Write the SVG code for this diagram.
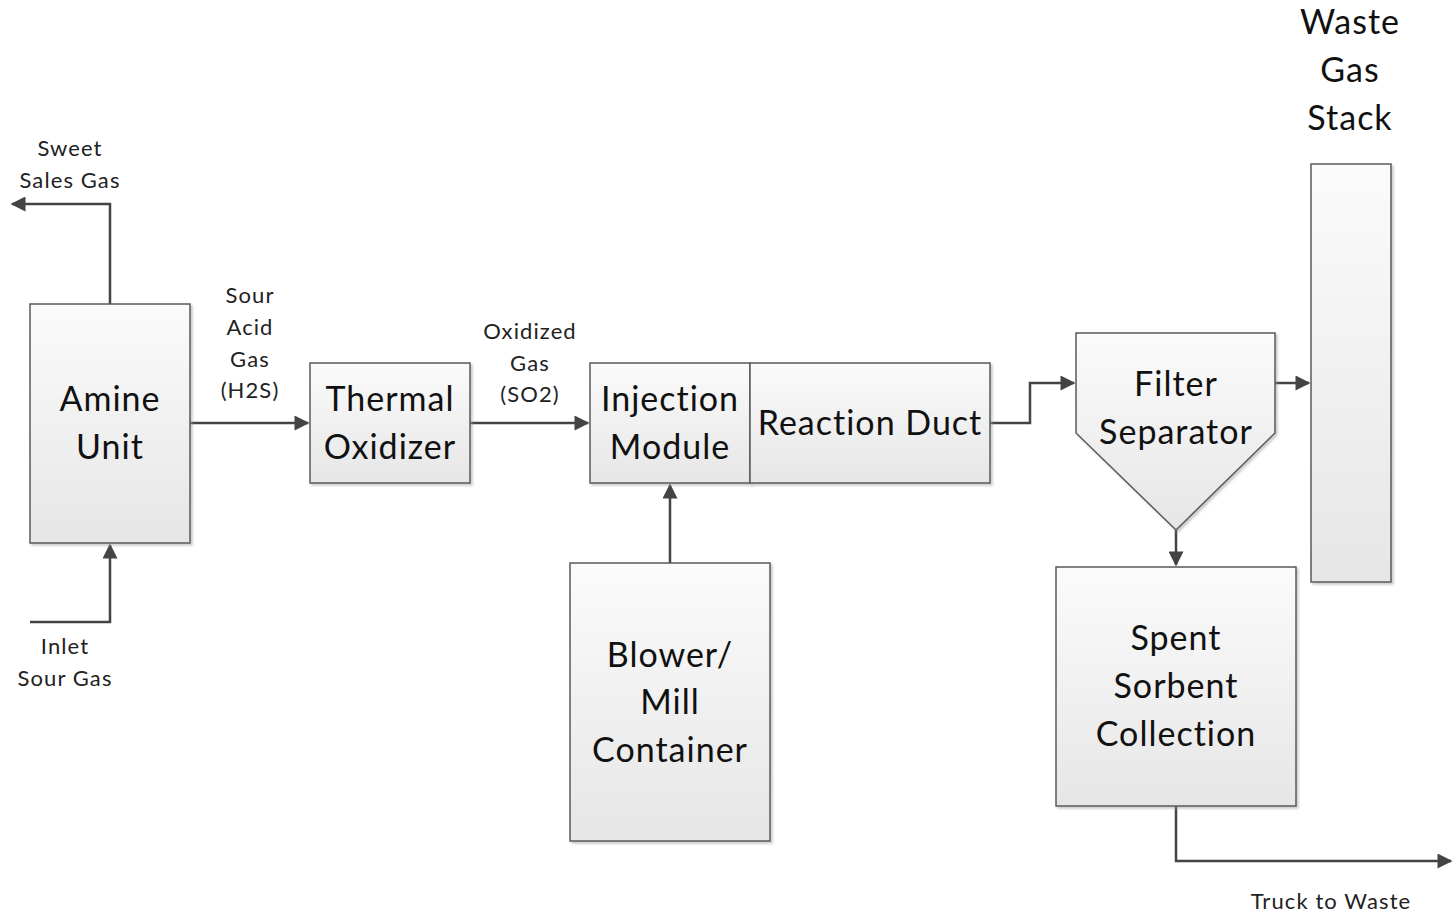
<svg xmlns="http://www.w3.org/2000/svg" width="1453" height="915" viewBox="0 0 1453 915">
<style>
.box{fill:url(#g);stroke:#5a5a5a;stroke-width:1.5;filter:url(#sh)}
.big{font-family:Lato,"Open Sans",sans-serif;font-size:34px;letter-spacing:1px;fill:#111;text-anchor:middle}
.sm{font-family:Lato,"Open Sans",sans-serif;font-size:22px;letter-spacing:1.1px;fill:#222;text-anchor:middle}
.c{fill:none;stroke:#444;stroke-width:2.5;marker-end:url(#ah)}
</style>
<defs>
<linearGradient id="g" x1="0" y1="0" x2="0" y2="1"><stop offset="0" stop-color="#fbfbfb"/><stop offset="1" stop-color="#e6e6e6"/></linearGradient>
<filter id="sh" x="-5%" y="-5%" width="115%" height="115%"><feDropShadow dx="2" dy="2" stdDeviation="1.2" flood-color="#999" flood-opacity="0.5"/></filter>
<marker id="ah" viewBox="0 0 10 10" refX="9" refY="5" markerWidth="7" markerHeight="6" markerUnits="strokeWidth" orient="auto"><path d="M0,0 L10,5 L0,10 z" fill="#444"/></marker>
</defs>
<g id="connectors">
<path class="c" d="M110,304 V204 H12"/>
<path class="c" d="M30,622 H110 V545"/>
<path class="c" d="M190,423 H308"/>
<path class="c" d="M470,423 H588"/>
<path class="c" d="M670,563 V485"/>
<path class="c" d="M990,423 H1030 V383 H1074"/>
<path class="c" d="M1275,383 H1309"/>
<path class="c" d="M1176,530 V565"/>
<path class="c" d="M1176,806 V861 H1451"/>
</g>
<g id="labels">
<text class="sm" x="70" y="156">Sweet</text>
<text class="sm" x="70" y="188">Sales Gas</text>
<text class="sm" x="65" y="654">Inlet</text>
<text class="sm" x="65" y="686">Sour Gas</text>
<text class="sm" x="250" y="303">Sour</text>
<text class="sm" x="250" y="335">Acid</text>
<text class="sm" x="250" y="367">Gas</text>
<text class="sm" x="250" y="398">(H2S)</text>
<text class="sm" x="530" y="339">Oxidized</text>
<text class="sm" x="530" y="371">Gas</text>
<text class="sm" x="530" y="402">(SO2)</text>
<text class="sm" x="1331" y="909">Truck to Waste</text>
</g>
<g id="amine"><rect class="box" x="30" y="304" width="160" height="239"/><text class="big" x="110" y="411">Amine</text><text class="big" x="110" y="459">Unit</text></g>
<g id="thermal"><rect class="box" x="310" y="363" width="160" height="120"/><text class="big" x="390" y="411">Thermal</text><text class="big" x="390" y="459">Oxidizer</text></g>
<g id="injection"><rect class="box" x="590" y="363" width="160" height="120"/><text class="big" x="670" y="411">Injection</text><text class="big" x="670" y="459">Module</text></g>
<g id="reaction"><rect class="box" x="750" y="363" width="240" height="120"/><text class="big" x="870" y="435">Reaction Duct</text></g>
<g id="blower"><rect class="box" x="570" y="563" width="200" height="278"/><text class="big" x="670" y="667">Blower/</text><text class="big" x="670" y="714">Mill</text><text class="big" x="670" y="762">Container</text></g>
<g id="filter"><path class="box" d="M1076,333 H1275 V433 L1176,530 L1076,433 Z"/><text class="big" x="1176" y="396">Filter</text><text class="big" x="1176" y="444">Separator</text></g>
<g id="stack"><rect class="box" x="1311" y="164" width="80" height="418"/><text class="big" x="1350" y="34">Waste</text><text class="big" x="1350" y="82">Gas</text><text class="big" x="1350" y="130">Stack</text></g>
<g id="spent"><rect class="box" x="1056" y="567" width="240" height="239"/><text class="big" x="1176" y="650">Spent</text><text class="big" x="1176" y="698">Sorbent</text><text class="big" x="1176" y="746">Collection</text></g>
</svg>
